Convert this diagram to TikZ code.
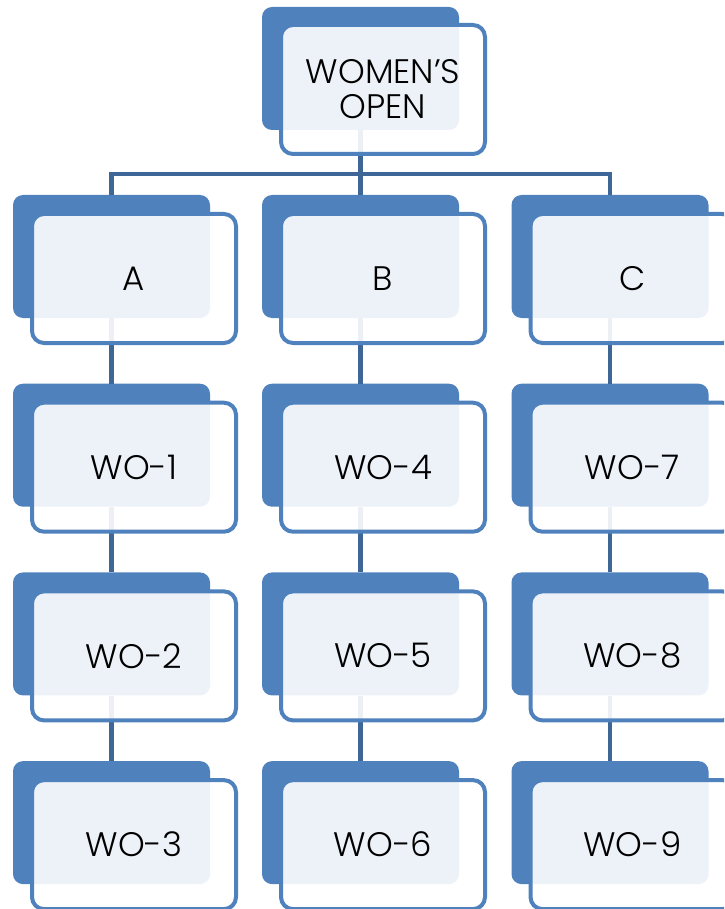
\documentclass[tikz,border=0pt]{standalone}
\usepackage{fontspec}
\setmainfont{Poppins}[UprightFont=* Light]
\usetikzlibrary{calc}
\definecolor{boxblue}{RGB}{79,129,189}
\definecolor{linkblue}{RGB}{62,103,152}

\begin{document}
\begin{tikzpicture}[x=1pt,y=-1pt,
    backbox/.style={fill=boxblue, rounded corners=10pt, inner sep=0pt,
      minimum width=197pt, minimum height=123pt},
    frontbox/.style={draw=boxblue, line width=4pt, fill=white, fill opacity=0.9,
      text opacity=1, rounded corners=12pt, inner sep=0pt, align=center,
      minimum width=204pt, minimum height=129pt,
      font=\fontsize{34}{35}\selectfont},
    link/.style={draw=linkblue, line width=4.5pt}]
  \useasboundingbox (0,0) rectangle (724,909);
  \clip (0,0) rectangle (724,909);

  %%%%% back boxes %%%%%
  \node[backbox] (btop) at (360.5,68.5) {};
  \foreach \col/\x/\k in {A/111.5/0, B/360.5/3, C/610/6} {
    \node[backbox] (b\col) at (\x,256.5) {};
    \foreach \r in {1,2,3} {
      \pgfmathtruncatemacro{\n}{\k+\r}
      \node[backbox] (b\n) at (\x,256.5+\r*188.7) {};
    }
  }

  %%%%% connectors %%%%%
  \coordinate (bus) at (360.5,174);
  \draw[link] (btop.south) -- (bus);
  \draw[link] (bus) -| (bA.north);
  \draw[link] (bus) -- (bB.north);
  \draw[link] (bus) -| (bC.north);
  \foreach \u/\v in {A/1, 1/2, 2/3, B/4, 4/5, 5/6, C/7, 7/8, 8/9}
    \draw[link] (b\u.south) -- (b\v.north);

  %%%%% front boxes %%%%%
  \node[frontbox] (ftop) at ($(btop)+(22.5,21)$) {WOMEN’S\\OPEN};
  \foreach \u/\t in {A/A, B/B, C/C, 1/WO-1, 2/WO-2, 3/WO-3, 4/WO-4, 5/WO-5,
      6/WO-6, 7/WO-7, 8/WO-8, 9/WO-9}
    \node[frontbox] (f\u) at ($(b\u)+(22.5,22)$) {\t};
\end{tikzpicture}
\end{document}
